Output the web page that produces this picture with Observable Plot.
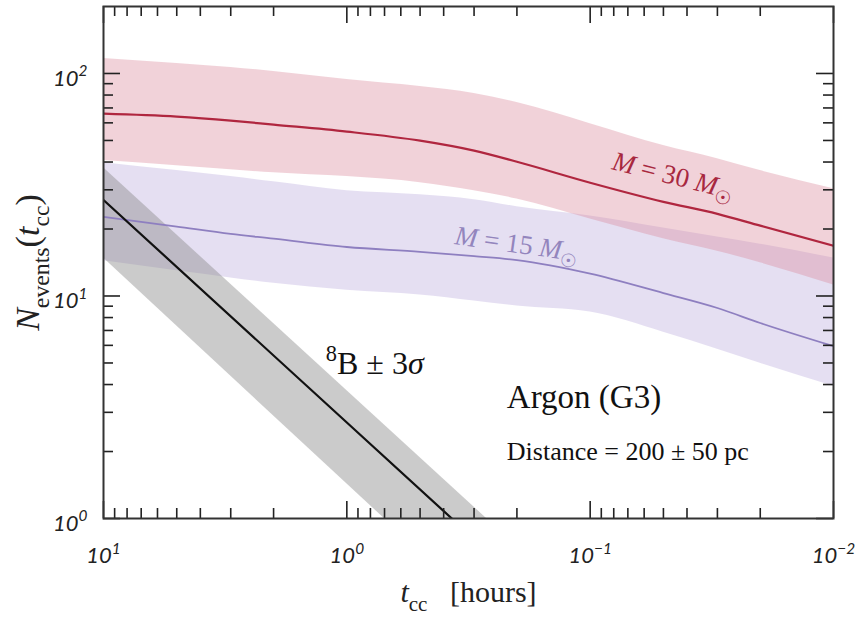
<!DOCTYPE html>
<html><head><meta charset="utf-8">
<script src="https://cdn.jsdelivr.net/npm/d3@7"></script>
<script src="https://cdn.jsdelivr.net/npm/@observablehq/plot@0.6"></script>
<style>body{margin:0;background:#fff}</style>
</head><body><div id="chart"></div>
<script>
// ---- data ----
const tGrid = [10, 5, 3, 2, 1, 0.5, 0.3, 0.2, 0.1, 0.05, 0.03, 0.02, 0.01]; // hours
const m30    = [66.0, 64.0, 61.4, 58.9, 54.8, 49.9, 45.0, 40.1, 32.3, 26.5, 23.4, 20.7, 16.8];
const m30Hi  = [116.9, 110.9, 106.4, 102.1, 94.0, 87.4, 81.3, 74.0, 59.5, 47.4, 41.4, 36.6, 30.3];
const m30Lo  = [40.6, 38.5, 36.9, 35.8, 34.4, 32.3, 29.7, 27.3, 22.2, 18.1, 15.9, 14.1, 11.2];
const m15    = [22.7, 20.5, 19.0, 18.1, 16.6, 15.8, 15.1, 14.5, 12.6, 10.3, 8.83, 7.56, 5.95];
const m15Hi  = [39.7, 36.6, 34.4, 32.6, 29.7, 28.5, 27.1, 25.2, 22.9, 20.2, 18.4, 17.1, 14.8];
const m15Lo  = [14.4, 12.97, 12.05, 11.4, 10.6, 10.1, 9.49, 9.02, 8.47, 6.88, 5.77, 4.99, 3.93];
const tB8    = [10, 0.2];
const b8     = [27.0, 0.54];
const b8Hi   = [37.7, 0.75];
const b8Lo   = [14.8, 0.28];

const xMajor = [10, 1, 0.1, 0.01];
const xMinor = [9,8,7,6,5,4,3,2, 0.9,0.8,0.7,0.6,0.5,0.4,0.3,0.2, 0.09,0.08,0.07,0.06,0.05,0.04,0.03,0.02];
const yMajor = [1, 10, 100];
const yMinor = [2,3,4,5,6,7,8,9, 20,30,40,50,60,70,80,90];

const labels = [
  {t: 0.0455, n: 34.7, s: "*M* = 30 *M*_{☉}", rot: 14, color: "#a8283f", size: 27, anchor: "middle"},
  {t: 0.20,   n: 17.1, s: "*M* = 15 *M*_{☉}", rot: 8,  color: "#9385bd", size: 27, anchor: "middle"},
  {t: 1.22,   n: 4.94, s: "^{8}B ± 3*σ*",     rot: 0,  color: "#111",    size: 32, anchor: "start"},
  {t: 0.22,   n: 3.5,  s: "Argon (G3)",       rot: 0,  color: "#111",    size: 33, anchor: "start"},
  {t: 0.22,   n: 2.0,  s: "Distance = 200 ± 50 pc", rot: 0, color: "#111", size: 26, anchor: "start"}
];
const yLabel = "*N*_{events}(*t*_{cc})";
const xLabel = "*t*_{cc}\u2002 [hours]";

// ---- tables ----
const band = (ts, lo, hi) => ts.map((t, i) => ({t, lo: lo[i], hi: hi[i]}));
const line = (ts, v) => ts.map((t, i) => ({t, n: v[i]}));

const W = 864, H = 619, mL = 103, mR = 31, mT = 6, mB = 101;
const innerW = W - mL - mR, innerH = H - mT - mB;
const majorLen = 17, minorLen = 10;
const tickStyle = {stroke: "#222", strokeWidth: 1.6};
const fmtPow = d => `10^{${String(Math.round(Math.log10(d))).replace("-", "−")}}`;
const serif = "Liberation Serif, Times New Roman, serif";
const tickFont = {fontSize: 22, fontStyle: "italic", fontFamily: "Lato, Open Sans, sans-serif", fill: "#222"};

const chart = Plot.plot({
  width: W, height: H, marginLeft: mL, marginRight: mR, marginTop: mT, marginBottom: mB,
  x: {type: "log", domain: [10, 0.01], label: null},
  y: {type: "log", domain: [1, 200], label: null},
  style: {background: "#fff"},
  marks: [
    Plot.areaY(band(tGrid, m15Lo, m15Hi), {x: "t", y1: "lo", y2: "hi", fill: "#c6b9e3", fillOpacity: 0.45, curve: "monotone-x", clip: true}),
    Plot.areaY(band(tGrid, m30Lo, m30Hi), {x: "t", y1: "lo", y2: "hi", fill: "#d98a9a", fillOpacity: 0.38, curve: "monotone-x", clip: true}),
    Plot.areaY(band(tB8, b8Lo, b8Hi), {x: "t", y1: "lo", y2: "hi", fill: "#8c8c8c", fillOpacity: 0.45, clip: true}),
    Plot.line(line(tGrid, m15), {x: "t", y: "n", stroke: "#8e7fc0", strokeWidth: 1.8, curve: "monotone-x", clip: true}),
    Plot.line(line(tGrid, m30), {x: "t", y: "n", stroke: "#b0263f", strokeWidth: 2.2, curve: "monotone-x", clip: true}),
    Plot.line(line(tB8, b8), {x: "t", y: "n", stroke: "#111", strokeWidth: 2.2, clip: true}),
    // inward ticks on all four sides
    Plot.tickX(xMajor, {insetTop: innerH - majorLen, ...tickStyle}),
    Plot.tickX(xMajor, {insetBottom: innerH - majorLen, ...tickStyle}),
    Plot.tickX(xMinor, {insetTop: innerH - minorLen, ...tickStyle}),
    Plot.tickX(xMinor, {insetBottom: innerH - minorLen, ...tickStyle}),
    Plot.tickY(yMajor, {insetRight: innerW - majorLen, ...tickStyle}),
    Plot.tickY(yMajor, {insetLeft: innerW - majorLen, ...tickStyle}),
    Plot.tickY(yMinor, {insetRight: innerW - minorLen, ...tickStyle}),
    Plot.tickY(yMinor, {insetLeft: innerW - minorLen, ...tickStyle}),
    Plot.axisX(xMajor, {anchor: "bottom", tickSize: 0, tickPadding: 29, tickFormat: fmtPow, label: null, ...tickFont}),
    Plot.axisY(yMajor, {anchor: "left", tickSize: 0, tickPadding: 16, dy: 5, tickFormat: fmtPow, label: null, ...tickFont}),
    Plot.frame({stroke: "#333", strokeWidth: 2}),
    ...labels.map(l => Plot.text([l], {x: "t", y: "n", text: "s", rotate: l.rot, fill: l.color, fontSize: l.size, fontFamily: serif, textAnchor: l.anchor})),
    Plot.text([yLabel], {frameAnchor: "left", dx: -75, rotate: -90, textAnchor: "middle", lineAnchor: "middle", fontSize: 34, fontFamily: serif, fill: "#222"}),
    Plot.text([xLabel], {frameAnchor: "bottom", dy: 74, textAnchor: "middle", lineAnchor: "middle", fontSize: 30, fontFamily: serif, fill: "#222"})
  ]
});
document.getElementById("chart").appendChild(chart);

// ---- rich text: ^{sup}, _{sub}, *italic* ----
function richify(svg) {
  const ns = "http://www.w3.org/2000/svg";
  for (const t of svg.querySelectorAll("text")) {
    const s = t.textContent;
    if (!/[\^_*]/.test(s)) continue;
    const segs = [];
    let italic = false, i = 0, buf = "";
    const flush = () => { if (buf) segs.push({text: buf, italic, shift: null}); buf = ""; };
    while (i < s.length) {
      const c = s[i];
      if (c === "*") { flush(); italic = !italic; i++; }
      else if ((c === "^" || c === "_") && s[i + 1] === "{") {
        flush();
        const j = s.indexOf("}", i);
        segs.push({text: s.slice(i + 2, j), italic: false, shift: c === "^" ? "sup" : "sub"});
        i = j + 1;
      } else { buf += c; i++; }
    }
    flush();
    const base = parseFloat(getComputedStyle(t).fontSize) || 16;
    while (t.firstChild) t.removeChild(t.firstChild);
    let cur = 0;
    for (const seg of segs) {
      const ts = document.createElementNS(ns, "tspan");
      const target = seg.shift === "sup" ? -0.42 * base : seg.shift === "sub" ? 0.28 * base : 0;
      ts.setAttribute("dy", (target - cur).toFixed(2));
      cur = target;
      ts.setAttribute("font-size", seg.shift ? (0.7 * base).toFixed(1) : base);
      if (seg.italic) ts.setAttribute("font-style", "italic");
      ts.textContent = seg.text;
      t.appendChild(ts);
    }
  }
}
richify(chart);
</script>
</body></html>
